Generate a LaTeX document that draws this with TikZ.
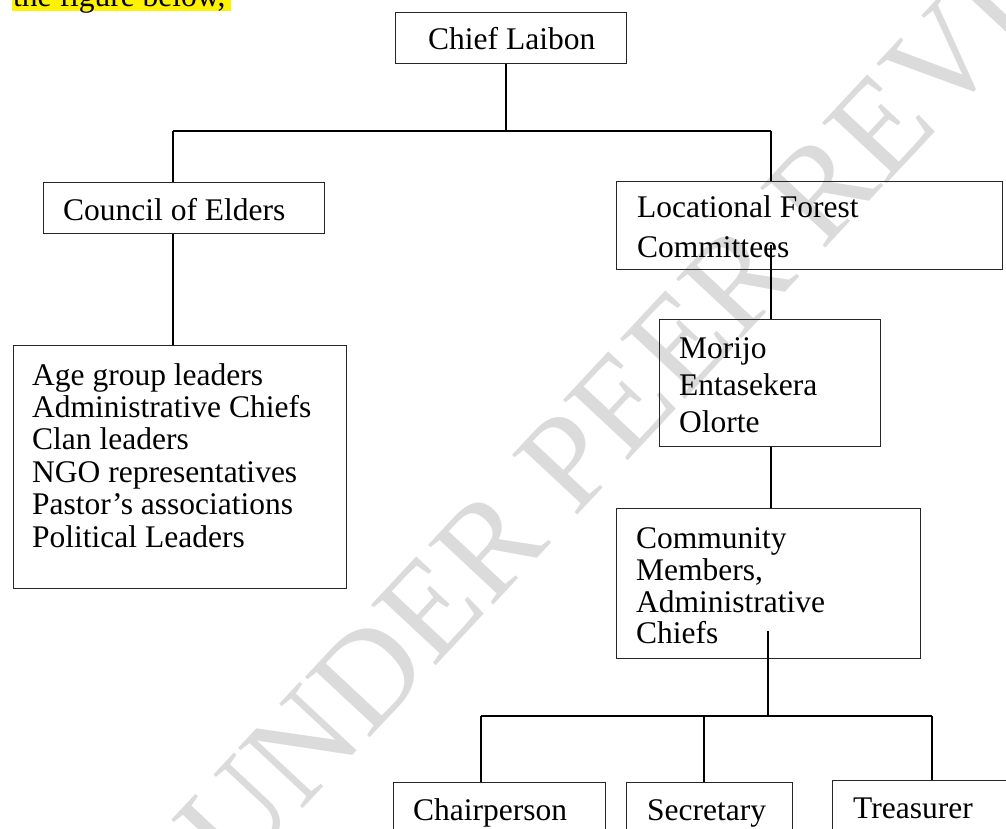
\documentclass[tikz,border=0pt]{standalone}
\usepackage{fontspec}
\setmainfont{Liberation Serif}
\begin{document}
\begin{tikzpicture}[x=1pt,y=-1pt,
  box/.style={draw=black!85, line width=1.2pt, anchor=north west, inner sep=0pt},
  conn/.style={draw=black, line width=1.4pt},
  txt/.style={anchor=base west, inner sep=0pt, font=\fontsize{31.5}{32.4}\selectfont},
  wmark/.style={rotate=47, text=black!14, inner sep=0pt, font=\fontsize{135}{135}\selectfont}
]
\useasboundingbox (0,0) rectangle (1006,829);
\clip (0,0) rectangle (1006,829);
% watermark
\node[wmark] (wm) at (676,346) {UNDER PEER REVIEW};
% intro line
\fill[yellow] (12,-20) rectangle (231,11);
\node[txt] (intro) at (13,7) {the figure below,};
% boxes
\node[box, minimum width=231pt, minimum height=51pt] (chief) at (395,12) {};
\node[box, minimum width=281pt, minimum height=51pt] (council) at (43,182) {};
\node[box, minimum width=333pt, minimum height=243pt] (age) at (13,345) {};
\node[box, minimum width=386pt, minimum height=88pt] (loc) at (616,181) {};
\node[box, minimum width=221pt, minimum height=127pt] (mor) at (659,319) {};
\node[box, minimum width=304pt, minimum height=150pt] (com) at (616,508) {};
\node[box, minimum width=212pt, minimum height=80pt] (chair) at (393,782) {};
\node[box, minimum width=166pt, minimum height=80pt] (sec) at (626,782) {};
\node[box, minimum width=200pt, minimum height=80pt] (treas) at (832,780) {};
% texts
\node[txt] (chiefT) at (428,50) {Chief Laibon};
\node[txt] (councilT) at (63,220) {Council of Elders};
\foreach \t [count=\i] in {Age group leaders, Administrative Chiefs, Clan leaders, NGO representatives, Pastor’s associations, Political Leaders}
  \node[txt] (age\i) at (32,{385+32.4*(\i-1)}) {\t};
\node[txt] (loc1) at (637,218) {Locational Forest};
\node[txt] (loc2) at (637,257) {Committees};
\node[txt] (mor1) at (679,358) {Morijo};
\node[txt] (mor2) at (679,395) {Entasekera};
\node[txt] (mor3) at (679,432) {Olorte};
\node[txt] (com1) at (636,548) {Community};
\node[txt] (com2) at (636,580) {Members,};
\node[txt] (com3) at (636,612) {Administrative};
\node[txt] (com4) at (636,643) {Chiefs};
\node[txt] (chairT) at (413,820) {Chairperson};
\node[txt] (secT) at (647,820) {Secretary};
\node[txt] (treasT) at (853,818) {Treasurer};
% connectors
\coordinate (j1) at (506,131);
\coordinate (jl) at (173,131);
\coordinate (jr) at (771,131);
\draw[conn] (chief.south -| j1) -- (j1);
\draw[conn] (jl) -- (jr);
\draw[conn] (jl) -- (jl |- council.north);
\draw[conn] (council.south -| jl) -- (age.north -| jl);
\draw[conn] (jr) -- (jr |- loc.north);
\coordinate (lj) at (771,245);
\draw[conn] (lj) -- (lj |- mor.north);
\draw[conn] (mor.south -| lj) -- (com.north -| lj);
\coordinate (cj) at (768,631);
\coordinate (bj) at (768,716);
\draw[conn] (cj) -- (bj);
\coordinate (b1) at (481,716);
\coordinate (b2) at (704,716);
\coordinate (b3) at (932,716);
\draw[conn] (b1) -- (b3);
\draw[conn] (b1) -- (b1 |- chair.north);
\draw[conn] (b2) -- (b2 |- sec.north);
\draw[conn] (b3) -- (b3 |- treas.north);
\end{tikzpicture}
\end{document}
